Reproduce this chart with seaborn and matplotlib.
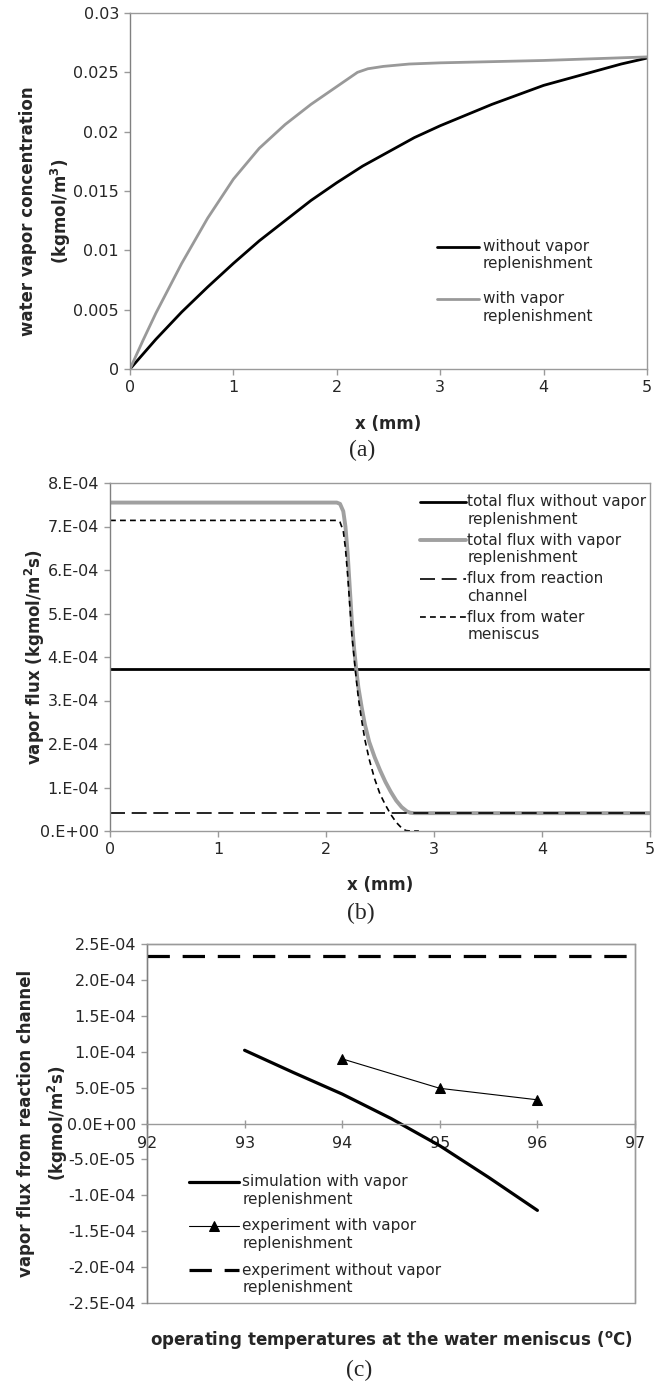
import numpy as np
import pandas as pd
import matplotlib
matplotlib.use("Agg")
import matplotlib.pyplot as plt
import seaborn as sns
from matplotlib.patches import Rectangle
from matplotlib.lines import Line2D
from matplotlib.legend_handler import HandlerLine2D

sns.set_style("ticks")
plt.rcParams['font.family'] = ['DejaVu Sans']

# ---------------- data ----------------
# (a) water vapor concentration vs x
a_x_without = [0, 0.25, 0.5, 0.75, 1, 1.25, 1.5, 1.75, 2, 2.25, 2.5, 2.75, 3, 3.25, 3.5,
               3.75, 4, 4.25, 4.5, 4.75, 5]
a_y_without = [0, 0.0025, 0.0048, 0.0069, 0.0089, 0.0108, 0.0125, 0.0142, 0.0157, 0.0171,
               0.0183, 0.0195, 0.0205, 0.0214, 0.0223, 0.0231, 0.0239, 0.0245, 0.0251,
               0.0257, 0.0262]
a_x_with = [0, 0.125, 0.25, 0.5, 0.75, 1, 1.25, 1.5, 1.75, 2, 2.1, 2.2, 2.3, 2.45, 2.7, 3, 4, 5]
a_y_with = [0, 0.0024, 0.0047, 0.0089, 0.0127, 0.0160, 0.0186, 0.0206, 0.0223, 0.0238,
            0.0244, 0.0250, 0.0253, 0.0255, 0.0257, 0.0258, 0.0260, 0.0263]

# (b) vapor flux vs x
b_x_total_without = [0, 5]
b_y_total_without = [3.72e-4, 3.72e-4]
b_x_total_with = [0, 2.10, 2.13, 2.16, 2.18, 2.20, 2.22, 2.24, 2.26, 2.28, 2.30, 2.33, 2.36,
                  2.40, 2.45, 2.50, 2.55, 2.60, 2.65, 2.70, 2.75, 2.78, 2.82, 5]
b_y_total_with = [7.55e-4, 7.55e-4, 7.52e-4, 7.35e-4, 7.0e-4, 6.4e-4, 5.6e-4, 4.8e-4, 4.2e-4,
                  3.72e-4, 3.3e-4, 2.85e-4, 2.45e-4, 2.05e-4, 1.7e-4, 1.4e-4, 1.13e-4, 0.9e-4,
                  0.7e-4, 0.55e-4, 0.45e-4, 0.42e-4, 0.41e-4, 0.41e-4]
b_x_reaction = [0, 5]
b_y_reaction = [0.41e-4, 0.41e-4]
b_x_meniscus = [0, 2.10, 2.13, 2.16, 2.18, 2.20, 2.22, 2.24, 2.26, 2.28, 2.30, 2.33, 2.36,
                2.40, 2.45, 2.50, 2.55, 2.60, 2.65, 2.70, 2.74, 2.78, 2.86]
b_y_meniscus = [7.14e-4, 7.14e-4, 7.10e-4, 6.9e-4, 6.5e-4, 5.9e-4, 5.2e-4, 4.5e-4, 4.0e-4,
                3.5e-4, 3.05e-4, 2.55e-4, 2.1e-4, 1.65e-4, 1.2e-4, 0.85e-4, 0.6e-4, 0.38e-4,
                0.2e-4, 0.07e-4, 0.01e-4, 0.0, 0.0]

# (c) vapor flux from reaction channel vs temperature
c_t_sim = [93, 93.5, 94, 94.5, 95, 95.5, 96]
c_y_sim = [1.02e-4, 0.71e-4, 0.41e-4, 0.07e-4, -0.31e-4, -0.75e-4, -1.21e-4]
c_t_exp = [94, 95, 96]
c_y_exp = [0.90e-4, 0.49e-4, 0.33e-4]
c_t_exp_without = [92, 97]
c_y_exp_without = [2.33e-4, 2.33e-4]

a_yticks = [0, 0.005, 0.01, 0.015, 0.02, 0.025, 0.03]
a_yticklabels = ["0", "0.005", "0.01", "0.015", "0.02", "0.025", "0.03"]
b_yticks = [0, 1e-4, 2e-4, 3e-4, 4e-4, 5e-4, 6e-4, 7e-4, 8e-4]
b_yticklabels = ["0.E+00", "1.E-04", "2.E-04", "3.E-04", "4.E-04", "5.E-04", "6.E-04", "7.E-04", "8.E-04"]
c_yticks = [2.5e-4, 2e-4, 1.5e-4, 1e-4, 0.5e-4, 0, -0.5e-4, -1e-4, -1.5e-4, -2e-4, -2.5e-4]
c_yticklabels = ["2.5E-04", "2.0E-04", "1.5E-04", "1.0E-04", "5.0E-05", "0.0E+00",
                 "-5.0E-05", "-1.0E-04", "-1.5E-04", "-2.0E-04", "-2.5E-04"]
c_xticks = [92, 93, 94, 95, 96, 97]

# ---------------- figure ----------------
W, H = 659, 1387
fig = plt.figure(figsize=(W / 100, H / 100), dpi=100)

def frac(l, t, r, b):
    return [l / W, 1 - b / H, (r - l) / W, (b - t) / H]

GRAY = "#999999"
SPINE = "#9a9a9a"
TICKFS = 11.5
LEGFS = 11
LABFS = 12
SERIF = ['Liberation Serif', 'DejaVu Serif']


class UpHandler(HandlerLine2D):
    """Put the legend handle level with the first line of a two-line label."""
    def create_artists(self, legend, orig_handle, xdescent, ydescent, width, height,
                       fontsize, trans):
        return super().create_artists(legend, orig_handle, xdescent,
                                      ydescent - 1.2 * fontsize, width, height,
                                      fontsize, trans)

HMAP = {Line2D: UpHandler()}


def style_axes(ax):
    for s in ax.spines.values():
        s.set_color(SPINE)
        s.set_linewidth(1.0)
    ax.spines['left'].set_color("#808080")
    ax.tick_params(axis='both', direction='out', length=4, width=1, color=SPINE,
                   labelsize=TICKFS, pad=4)

# ---- (a)
axa = fig.add_axes(frac(130, 13, 647, 369))
sns.lineplot(x=a_x_without, y=a_y_without, ax=axa, color="black", lw=2.0,
             label="without vapor\nreplenishment")
sns.lineplot(x=a_x_with, y=a_y_with, ax=axa, color=GRAY, lw=2.0,
             label="with vapor\nreplenishment")
axa.set_xlim(0, 5)
axa.set_ylim(0, 0.03)
axa.set_xticks([0, 1, 2, 3, 4, 5])
axa.set_yticks(a_yticks)
axa.set_yticklabels(a_yticklabels)
style_axes(axa)
axa.set_xlabel("x (mm)", fontsize=LABFS, fontweight='bold')
axa.xaxis.set_label_coords(0.5, -0.128)
axa.set_ylabel("water vapor concentration\n(kgmol/m$^\\mathbf{3}$)", fontsize=LABFS,
               fontweight='bold', linespacing=1.65)
axa.yaxis.set_label_coords(-0.110, 0.444)
axa.legend(loc='upper left', bbox_to_anchor=(0.594, 0.365), frameon=False,
           fontsize=LEGFS, borderpad=0, borderaxespad=0, handlelength=2.75,
           handletextpad=0.25, labelspacing=1.3, handler_map=HMAP)
fig.text(362 / W, 1 - 450 / H, "(a)", family=SERIF, fontsize=17, ha='center', va='center')

# ---- (b)
axb = fig.add_axes(frac(110, 483, 650, 831))
sns.lineplot(x=b_x_total_without, y=b_y_total_without, ax=axb, color="black", lw=2.0,
             label="total flux without vapor\nreplenishment")
sns.lineplot(x=b_x_total_with, y=b_y_total_with, ax=axb, color="#a0a0a0", lw=2.8,
             label="total flux with vapor\nreplenishment")
sns.lineplot(x=b_x_reaction, y=b_y_reaction, ax=axb, color="black", lw=1.2,
             label="flux from reaction\nchannel")
sns.lineplot(x=b_x_meniscus, y=b_y_meniscus, ax=axb, color="black", lw=1.2,
             label="flux from water\nmeniscus")
lines_b = axb.get_lines()
lines_b[2].set_dashes((9, 4))
lines_b[3].set_dashes((3.5, 2.5))
axb.set_xlim(0, 5)
axb.set_ylim(0, 8e-4)
axb.set_xticks([0, 1, 2, 3, 4, 5])
axb.set_yticks(b_yticks)
axb.set_yticklabels(b_yticklabels)
style_axes(axb)
axb.set_xlabel("x (mm)", fontsize=LABFS, fontweight='bold')
axb.xaxis.set_label_coords(0.5, -0.130)
axb.set_ylabel("vapor flux (kgmol/m$^\\mathbf{2}$s)", fontsize=LABFS, fontweight='bold')
axb.yaxis.set_label_coords(-0.117, 0.5)
legb = axb.legend(loc='upper left', bbox_to_anchor=(0.574, 0.968), frameon=False,
                  fontsize=LEGFS, borderpad=0, borderaxespad=0, handlelength=3.0,
                  handletextpad=0.1, labelspacing=0.40, handler_map=HMAP)
hl = legb.get_lines()
hl[2].set_dashes((9, 4))
hl[3].set_dashes((3.5, 2.5))
fig.text(361 / W, 1 - 913 / H, "(b)", family=SERIF, fontsize=17, ha='center', va='center')

# ---- (c)
axc = fig.add_axes(frac(147, 944, 635, 1303))
sns.lineplot(x=c_t_sim, y=c_y_sim, ax=axc, color="black", lw=2.3,
             label="simulation with vapor\nreplenishment")
sns.lineplot(x=c_t_exp, y=c_y_exp, ax=axc, color="black", lw=0.8, marker='^',
             markersize=6.5, markeredgecolor='black', label="experiment with vapor\nreplenishment")
sns.lineplot(x=c_t_exp_without, y=c_y_exp_without, ax=axc, color="black", lw=2.3,
             label="experiment without vapor\nreplenishment")
lines_c = axc.get_lines()
lines_c[2].set_dashes((7, 4))
axc.set_xlim(92, 97)
axc.set_ylim(-2.5e-4, 2.5e-4)
axc.set_xticks(c_xticks)
axc.set_yticks(c_yticks)
axc.set_yticklabels(c_yticklabels)
style_axes(axc)
axc.spines['bottom'].set_position(('data', 0))
axc.tick_params(axis='x', direction='inout', length=6, pad=6)
axc.add_patch(Rectangle((0, 0), 1, 1, transform=axc.transAxes, fill=False,
                        edgecolor=SPINE, lw=1.0, clip_on=False, zorder=0))
axc.set_xlabel("")
fig.text(391 / W, 1 - 1340 / H, "operating temperatures at the water meniscus ($^\\mathbf{o}$C)",
         fontsize=LABFS, fontweight='bold', ha='center', va='center')
axc.set_ylabel("vapor flux from reaction channel\n(kgmol/m$^\\mathbf{2}$s)", fontsize=LABFS,
               fontweight='bold', linespacing=1.65)
axc.yaxis.set_label_coords(-0.157, 0.5)
legc = axc.legend(loc='upper left', bbox_to_anchor=(0.086, 0.359), frameon=False,
                  fontsize=LEGFS, borderpad=0, borderaxespad=0, handlelength=3.3,
                  handletextpad=0.2, labelspacing=0.78, handler_map=HMAP)
legc.get_lines()[2].set_dashes((7, 4))
fig.text(359 / W, 1 - 1370 / H, "(c)", family=SERIF, fontsize=17, ha='center', va='center')

fig.savefig("out.png", dpi=100)
